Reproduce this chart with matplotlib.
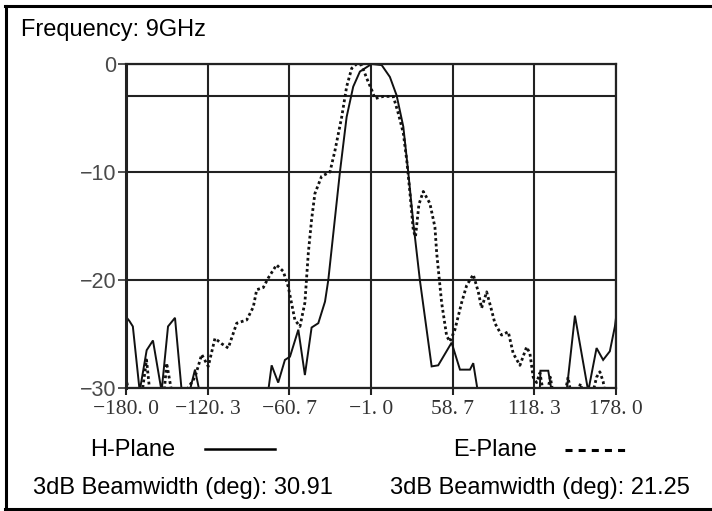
import matplotlib
matplotlib.use("Agg")
import matplotlib.pyplot as plt
from matplotlib.lines import Line2D
import numpy as np

# ---------------- data ----------------
title_text = "Frequency: 9GHz"

x_ticks = [-180.0, -120.3, -60.7, -1.0, 58.7, 118.3, 178.0]
x_tick_labels = ["\u2212180. 0", "\u2212120. 3", "\u221260. 7", "\u22121. 0", "58. 7", "118. 3", "178. 0"]
y_ticks = [0, -10, -20, -30]
y_tick_labels = ["0", "\u221210", "\u221220", "\u221230"]
y_extra_grid = [-3]

# H-Plane (solid) angle in deg, level in dB (values below -30 fall off the chart)
h_deg = [-180, -177.5, -175, -170, -164.9, -160.3, -154, -149.3, -144.2, -139.3, -133.5,
         -129.6, -126, -100, -76, -73.6, -68.8, -63.9, -60.2, -54.1, -49.3, -44.4,
         -39.5, -34.6, -32.2, -23.7, -18.8, -14, -9.1, -0.6, 6.8, 12.8, 17.7, 22.6,
         26.2, 29.9, 34.7, 43.3, 48.1, 57.9, 64, 71.3, 73.7, 77, 100, 122.3, 122.8,
         128.5, 131, 141.9, 148, 157.7, 163.8, 168.6, 173.5, 177.2, 178]
h_db = [-23.4, -23.8, -24.3, -30.3, -26.5, -25.6, -30.3, -24.3, -23.5, -30.3, -30.3,
        -28.3, -30.5, -33, -30.2, -27.9, -29.5, -27.4, -27.1, -24.6, -28.8, -24.4,
        -24.0, -22.0, -20.0, -10.0, -4.9, -2.1, -0.7, 0.0, -0.1, -1.2, -2.9, -5.8,
        -10.0, -14.7, -20.0, -28.0, -27.9, -25.8, -28.3, -28.3, -27.7, -30.3, -33, -30.3, -28.4,
        -28.4, -30.3, -30.3, -23.3, -30.3, -26.3, -27.4, -26.6, -24.3, -23.5]

# E-Plane (dotted)
e_deg = [-180, -178, -172, -168, -165, -162.5, -156, -152, -150.3, -146.7, -140, -135.7,
         -129.6, -124.7, -119.9, -115, -110.1, -105.3, -99.1, -91.8, -87, -84.5, -79.7,
         -76, -70, -65.1, -61.5, -56.6, -52.9, -49.3, -46.8, -44.4, -42, -37.1, -31,
         -27.3, -22.4, -18.8, -15.1, -11.5, -7.8, -4.2, -0.5, 1.9, 8, 15.3, 19, 22.6,
         25.1, 27.5, 29.9, 31.5, 34, 37.2, 42, 45.7, 47, 50.6, 54.3, 56.7, 60.3, 65.2,
         68.9, 73.7, 77.4, 79.8, 83.5, 87.1, 89.5, 94.4, 99.3, 102.9, 107.8, 112.7,
         115.1, 117.5, 120, 122.4, 125, 128, 130, 132, 140, 143, 145, 150, 152, 154,
         161, 163.8, 166.2, 168.6, 170, 178]
e_db = [-29.0, -30.5, -31, -30.2, -27.4, -30.5, -31, -30.2, -27.7, -30.3, -31, -30.2,
        -29.0, -26.9, -28.0, -25.4, -25.9, -26.3, -24.0, -23.7, -22.5, -20.9, -20.7,
        -19.8, -18.6, -19.2, -20.6, -23.7, -24.3, -22.1, -17.5, -14.4, -12.0, -10.4, -10.0,
        -8.0, -4.9, -2.1, -0.4, 0.0, -0.1, -1.3, -2.4, -3.2, -3.0, -3.0, -4.6, -6.4,
        -8.9, -12.0, -15.4, -16.0, -13.0, -11.8, -12.9, -15.1, -17.5, -22.1, -25.2, -25.7, -24.6, -22.1,
        -20.5, -19.5, -21.1, -22.6, -21.1, -22.8, -24.0, -25.1, -24.8, -26.8, -27.9, -26.2,
        -26.8, -29.0, -29.5, -28.6, -30.5, -30.3, -29.0, -30.5, -31, -29.0, -30.5, -30.5, -29.6, -30.5,
        -30.5, -29.0, -28.5, -29.4, -30.5, -31]

h_label = "H-Plane"
e_label = "E-Plane"
h_bw_text = "3dB Beamwidth (deg): 30.91"
e_bw_text = "3dB Beamwidth (deg): 21.25"

# ---------------- figure ----------------
W, H = 712, 511
fig = plt.figure(figsize=(W / 100, H / 100), dpi=100)
fig.patch.set_facecolor("white")

def fx(px):
    return px / W

def fy(py):
    return 1 - py / H

ax = fig.add_axes([fx(126), fy(388), fx(616) - fx(126), fy(64) - fy(388)])

ax.plot(h_deg, h_db, color="#111111", lw=1.4, solid_joinstyle="miter")
ax.plot(e_deg, e_db, color="#111111", lw=2.0, linestyle=(0, (1.0, 1.0)))

ax.set_xlim(-180, 178)
ax.set_ylim(-30, 0)

ax.set_xticks(x_ticks)
ax.set_xticklabels(x_tick_labels, family="Liberation Serif", fontsize=15.5, color="#333333")
ax.set_yticks(y_ticks)
ax.set_yticklabels(y_tick_labels, family="Liberation Sans", fontsize=15.5, color="#4a4a4a")
ax.set_yticks(y_extra_grid, minor=True)

ax.tick_params(axis="x", direction="out", length=5, width=1.5, pad=3.5, color="#222222")
ax.tick_params(axis="y", direction="out", length=6, width=1.3, pad=1, color="#444444")
ax.tick_params(axis="y", which="minor", length=0)

ax.grid(True, which="both", color="#222222", lw=1.5)
ax.set_axisbelow(True)
for name, sp in ax.spines.items():
    sp.set_color("#222222")
    sp.set_linewidth(1.6)
ax.spines["left"].set_linewidth(2.2)

# texts
fig.text(fx(21), fy(36), title_text, family="Liberation Sans", fontsize=17, va="baseline", ha="left")
fig.text(fx(90), fy(456), h_label, family="Liberation Sans", fontsize=17, va="baseline", ha="left")
fig.text(fx(453), fy(456), e_label, family="Liberation Sans", fontsize=17, va="baseline", ha="left")
fig.text(fx(33), fy(494), h_bw_text, family="Liberation Sans", fontsize=17, va="baseline", ha="left")
fig.text(fx(390), fy(494), e_bw_text, family="Liberation Sans", fontsize=17, va="baseline", ha="left")

# legend sample lines
fig.add_artist(Line2D([fx(205), fx(275)], [fy(449), fy(449)], color="black", lw=1.8))
fig.add_artist(Line2D([fx(565), fx(628)], [fy(450), fy(450)], color="black", lw=2.2,
                      linestyle=(0, (2.3, 2.0))))

# outer frame (left, top, bottom)
fig.add_artist(Line2D([fx(6), fx(6)], [fy(6), fy(509)], color="black", lw=2.2))
fig.add_artist(Line2D([fx(5), fx(712)], [fy(6.5), fy(6.5)], color="black", lw=2.2))
fig.add_artist(Line2D([fx(5), fx(712)], [fy(508.5), fy(508.5)], color="black", lw=2.2))

fig.savefig("out.png", dpi=100, facecolor="white")
